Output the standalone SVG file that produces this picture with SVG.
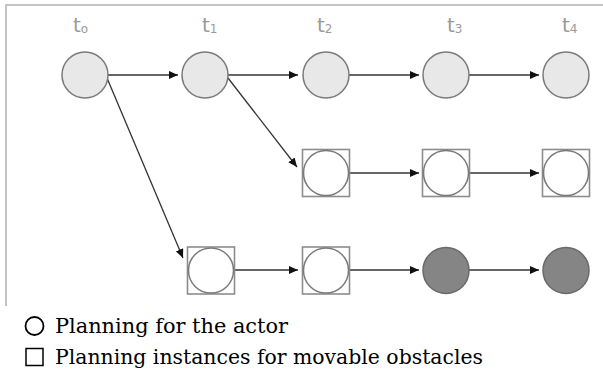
<svg xmlns="http://www.w3.org/2000/svg" width="603" height="374" viewBox="0 0 603 374">
  <style>
    .frame{stroke:#c4c4c4;stroke-width:2;fill:none}
    .light{fill:#e8e8e8;stroke:#7a7a7a;stroke-width:1.5}
    .white{fill:#ffffff;stroke:#7a7a7a;stroke-width:1.5}
    .dark{fill:#858585;stroke:#6a6a6a;stroke-width:1.5}
    .box{fill:none;stroke:#8c8c8c;stroke-width:1.6}
    .edge{stroke:#333;stroke-width:1.3;fill:none;marker-end:url(#arr)}
    .tl{font-family:"DejaVu Sans",sans-serif;font-size:20px;fill:#9a9a9a}
    .sub{font-size:12px}
    .leg{font-family:"DejaVu Serif",serif;font-size:21px;fill:#000}
  </style>
  <defs>
    <marker id="arr" markerWidth="10" markerHeight="8" refX="9" refY="4" orient="auto" markerUnits="userSpaceOnUse">
      <path d="M0,0 L9,4 L0,8 Z" fill="#111"/>
    </marker>
  </defs>
  <path class="frame" d="M6,306 V5 H603"/>

  <g id="labels">
    <text class="tl" x="73" y="32">t<tspan class="sub" dy="1">o</tspan></text>
    <text class="tl" x="202" y="32">t<tspan class="sub" dy="1">1</tspan></text>
    <text class="tl" x="317" y="32">t<tspan class="sub" dy="1">2</tspan></text>
    <text class="tl" x="447" y="32">t<tspan class="sub" dy="1">3</tspan></text>
    <text class="tl" x="562" y="32">t<tspan class="sub" dy="1">4</tspan></text>
  </g>

  <g id="edges">
    <line class="edge" x1="108" y1="75" x2="178" y2="75"/>
    <line class="edge" x1="228" y1="75" x2="298" y2="75"/>
    <line class="edge" x1="349" y1="75" x2="419" y2="75"/>
    <line class="edge" x1="469" y1="75" x2="539" y2="75"/>
    <line class="edge" x1="107" y1="78" x2="183" y2="258"/>
    <line class="edge" x1="228" y1="78" x2="297" y2="167"/>
    <line class="edge" x1="350" y1="173" x2="419" y2="173"/>
    <line class="edge" x1="470" y1="173" x2="539" y2="173"/>
    <line class="edge" x1="234" y1="270" x2="298" y2="270"/>
    <line class="edge" x1="350" y1="270" x2="419" y2="270"/>
    <line class="edge" x1="469" y1="270" x2="539" y2="270"/>
  </g>

  <g id="n0"><circle class="light" cx="85" cy="75" r="23"/></g>
  <g id="n1"><circle class="light" cx="205" cy="75" r="23"/></g>
  <g id="n2"><circle class="light" cx="326" cy="75" r="23"/></g>
  <g id="n3"><circle class="light" cx="446" cy="75" r="23"/></g>
  <g id="n4"><circle class="light" cx="566" cy="75" r="23"/></g>

  <g id="m2"><rect class="box" x="302.5" y="149.5" width="47" height="47"/><circle class="white" cx="326" cy="173" r="22.5"/></g>
  <g id="m3"><rect class="box" x="422.5" y="149.5" width="47" height="47"/><circle class="white" cx="446" cy="173" r="22.5"/></g>
  <g id="m4"><rect class="box" x="542.5" y="149.5" width="47" height="47"/><circle class="white" cx="566" cy="173" r="22.5"/></g>

  <g id="b1"><rect class="box" x="187.5" y="247" width="47" height="47"/><circle class="white" cx="211" cy="270.5" r="22.5"/></g>
  <g id="b2"><rect class="box" x="302.5" y="247" width="47" height="47"/><circle class="white" cx="326" cy="270.5" r="22.5"/></g>
  <g id="b3"><circle class="dark" cx="446" cy="270.5" r="23"/></g>
  <g id="b4"><circle class="dark" cx="566" cy="270.5" r="23"/></g>

  <g id="legend">
    <circle cx="34.5" cy="326" r="9" fill="none" stroke="#000" stroke-width="1.8"/>
    <text class="leg" x="55" y="333" textLength="233" lengthAdjust="spacingAndGlyphs">Planning for the actor</text>
    <rect x="26" y="348.5" width="17" height="17" fill="none" stroke="#000" stroke-width="1.5"/>
    <text class="leg" x="55" y="364" textLength="428" lengthAdjust="spacingAndGlyphs">Planning instances for movable obstacles</text>
  </g>
</svg>
